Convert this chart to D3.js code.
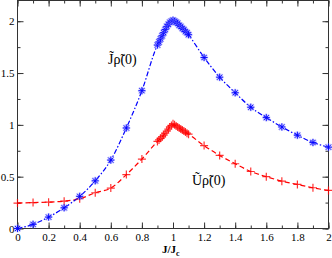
<!DOCTYPE html>
<html lang="en">
<head>
<meta charset="utf-8">
<script src="https://d3js.org/d3.v7.min.js"></script>
<style type="text/css">
body {
	margin: 0;
	background: white;
}
</style>
</head>
<body>
<script type="text/javascript">

// J/Jc sample points
var xs = [0, 0.1, 0.2, 0.3, 0.4, 0.5, 0.6, 0.7, 0.8,
          0.9, 0.91, 0.92, 0.93, 0.94, 0.95, 0.96, 0.97, 0.98, 0.99, 1.0,
          1.01, 1.02, 1.03, 1.04, 1.05, 1.06, 1.07, 1.08, 1.09, 1.1,
          1.2, 1.3, 1.4, 1.5, 1.6, 1.7, 1.8, 1.9, 2.0];

// J~ rho~(0)  (blue, stars)
var jRho = [0, 0.04, 0.11, 0.20, 0.31, 0.46, 0.66, 0.97, 1.33,
            1.77, 1.80, 1.83, 1.86, 1.89, 1.92, 1.95, 1.97, 1.99, 2.00, 2.01,
            2.00, 1.99, 1.98, 1.96, 1.95, 1.93, 1.92, 1.90, 1.89, 1.87,
            1.65, 1.46, 1.31, 1.17, 1.07, 0.98, 0.90, 0.83, 0.785];

// U~ rho~(0)  (red, plus)
var uRho = [0.245, 0.25, 0.254, 0.264, 0.287, 0.345, 0.39, 0.52, 0.67,
            0.84, 0.855, 0.87, 0.885, 0.90, 0.92, 0.94, 0.96, 0.98, 0.995, 1.01,
            1.0, 0.99, 0.98, 0.97, 0.96, 0.95, 0.94, 0.93, 0.92, 0.91,
            0.80, 0.705, 0.625, 0.55, 0.50, 0.457, 0.425, 0.393, 0.367];

var xTicks = [0, 0.2, 0.4, 0.6, 0.8, 1, 1.2, 1.4, 1.6, 1.8, 2];
var yTicks = [0, 0.5, 1, 1.5, 2];

var width = 332, height = 258;
var mLeft = 17.5, mRight = 328.5, mTop = 0.5, mBottom = 228.5;
var font = "'Liberation Serif', 'Liberation Sans', Arial, sans-serif";

var svg = d3.select("body").append("svg")
	.attr("width", width)
	.attr("height", height);

var x = d3.scaleLinear().domain([0, 2]).range([mLeft, mRight]);
var y = d3.scaleLinear().domain([0, 2.2]).range([mBottom, mTop]);

var minorX = d3.range(0, 2.001, 0.1);
var minorY = d3.range(0, 2.201, 0.25);

// axes, ticks pointing inward
var axisColor = "#333";
function addAxis(axis, tr) {
	return svg.append("g").attr("transform", tr).call(axis);
}
addAxis(d3.axisBottom(x).tickValues(minorX).tickSize(-3).tickFormat(""), "translate(0," + mBottom + ")");
addAxis(d3.axisBottom(x).tickValues(xTicks).tickSize(-6).tickPadding(5)
	.tickFormat(function(d) { return d; }), "translate(0," + mBottom + ")");
addAxis(d3.axisTop(x).tickValues(minorX).tickSize(-3).tickFormat(""), "translate(0," + mTop + ")");
addAxis(d3.axisTop(x).tickValues(xTicks).tickSize(-6).tickFormat(""), "translate(0," + mTop + ")");
addAxis(d3.axisLeft(y).tickValues(minorY).tickSize(-3).tickFormat(""), "translate(" + mLeft + ",0)");
addAxis(d3.axisLeft(y).tickValues(yTicks).tickSize(-6).tickPadding(3)
	.tickFormat(function(d) { return d; }), "translate(" + mLeft + ",0)");
addAxis(d3.axisRight(y).tickValues(minorY).tickSize(-3).tickFormat(""), "translate(" + mRight + ",0)");
addAxis(d3.axisRight(y).tickValues(yTicks).tickSize(-6).tickFormat(""), "translate(" + mRight + ",0)");

svg.selectAll(".domain").remove();
svg.selectAll(".tick line").attr("stroke", axisColor);
svg.selectAll(".tick text")
	.attr("fill", "#000")
	.style("font-family", font)
	.style("font-size", "11px");

svg.append("rect")
	.attr("x", mLeft).attr("y", mTop)
	.attr("width", mRight - mLeft).attr("height", mBottom - mTop)
	.attr("fill", "none").attr("stroke", axisColor);

var line = function(vals) {
	return d3.line()
		.x(function(d, i) { return x(xs[i]); })
		.y(function(d) { return y(d); })
		.curve(d3.curveMonotoneX)(vals);
};

svg.append("path").attr("d", line(uRho))
	.attr("fill", "none").attr("stroke", "#ff0000").attr("stroke-width", 1.2)
	.attr("stroke-dasharray", "5,3");

svg.append("path").attr("d", line(jRho))
	.attr("fill", "none").attr("stroke", "#0000ff").attr("stroke-width", 1.2)
	.attr("stroke-dasharray", "5,2,1.5,2");

// red plus markers
var plus = svg.selectAll(".plus").data(uRho).enter().append("g")
	.attr("transform", function(d, i) { return "translate(" + x(xs[i]) + "," + y(d) + ")"; });
plus.append("path").attr("d", "M-4,0H4M0,-4V4")
	.attr("stroke", "#ff0000").attr("stroke-width", 1.2).attr("stroke-opacity", 0.8);

// blue star markers
var star = svg.selectAll(".star").data(jRho).enter().append("g")
	.attr("transform", function(d, i) { return "translate(" + x(xs[i]) + "," + y(d) + ")"; });
star.append("path").attr("d", "M-4,0H4M0,-4V4M-3,-3L3,3M-3,3L3,-3")
	.attr("stroke", "#8888ff").attr("stroke-width", 2).attr("stroke-opacity", 0.5);
star.append("path").attr("d", "M-3.5,0H3.5M0,-3.5V3.5M-2.5,-2.5L2.5,2.5M-2.5,2.5L2.5,-2.5")
	.attr("stroke", "#0000ff").attr("stroke-width", 0.9);

// curve labels
svg.append("text").attr("x", 108).attr("y", 64)
	.style("font-family", font).style("font-size", "14px")
	.text("J\u0303\u03C1\u0303(0)");
svg.append("text").attr("x", 192).attr("y", 185)
	.style("font-family", font).style("font-size", "14px")
	.text("U\u0303\u03C1\u0303(0)");

// x axis title
var xt = svg.append("text").attr("x", 162).attr("y", 253)
	.style("font-family", font).style("font-size", "11px")
	.style("font-weight", "bold").text("J/J");
xt.append("tspan").attr("dy", 3).style("font-size", "8px").text("c");

</script>
</body>
</html>
